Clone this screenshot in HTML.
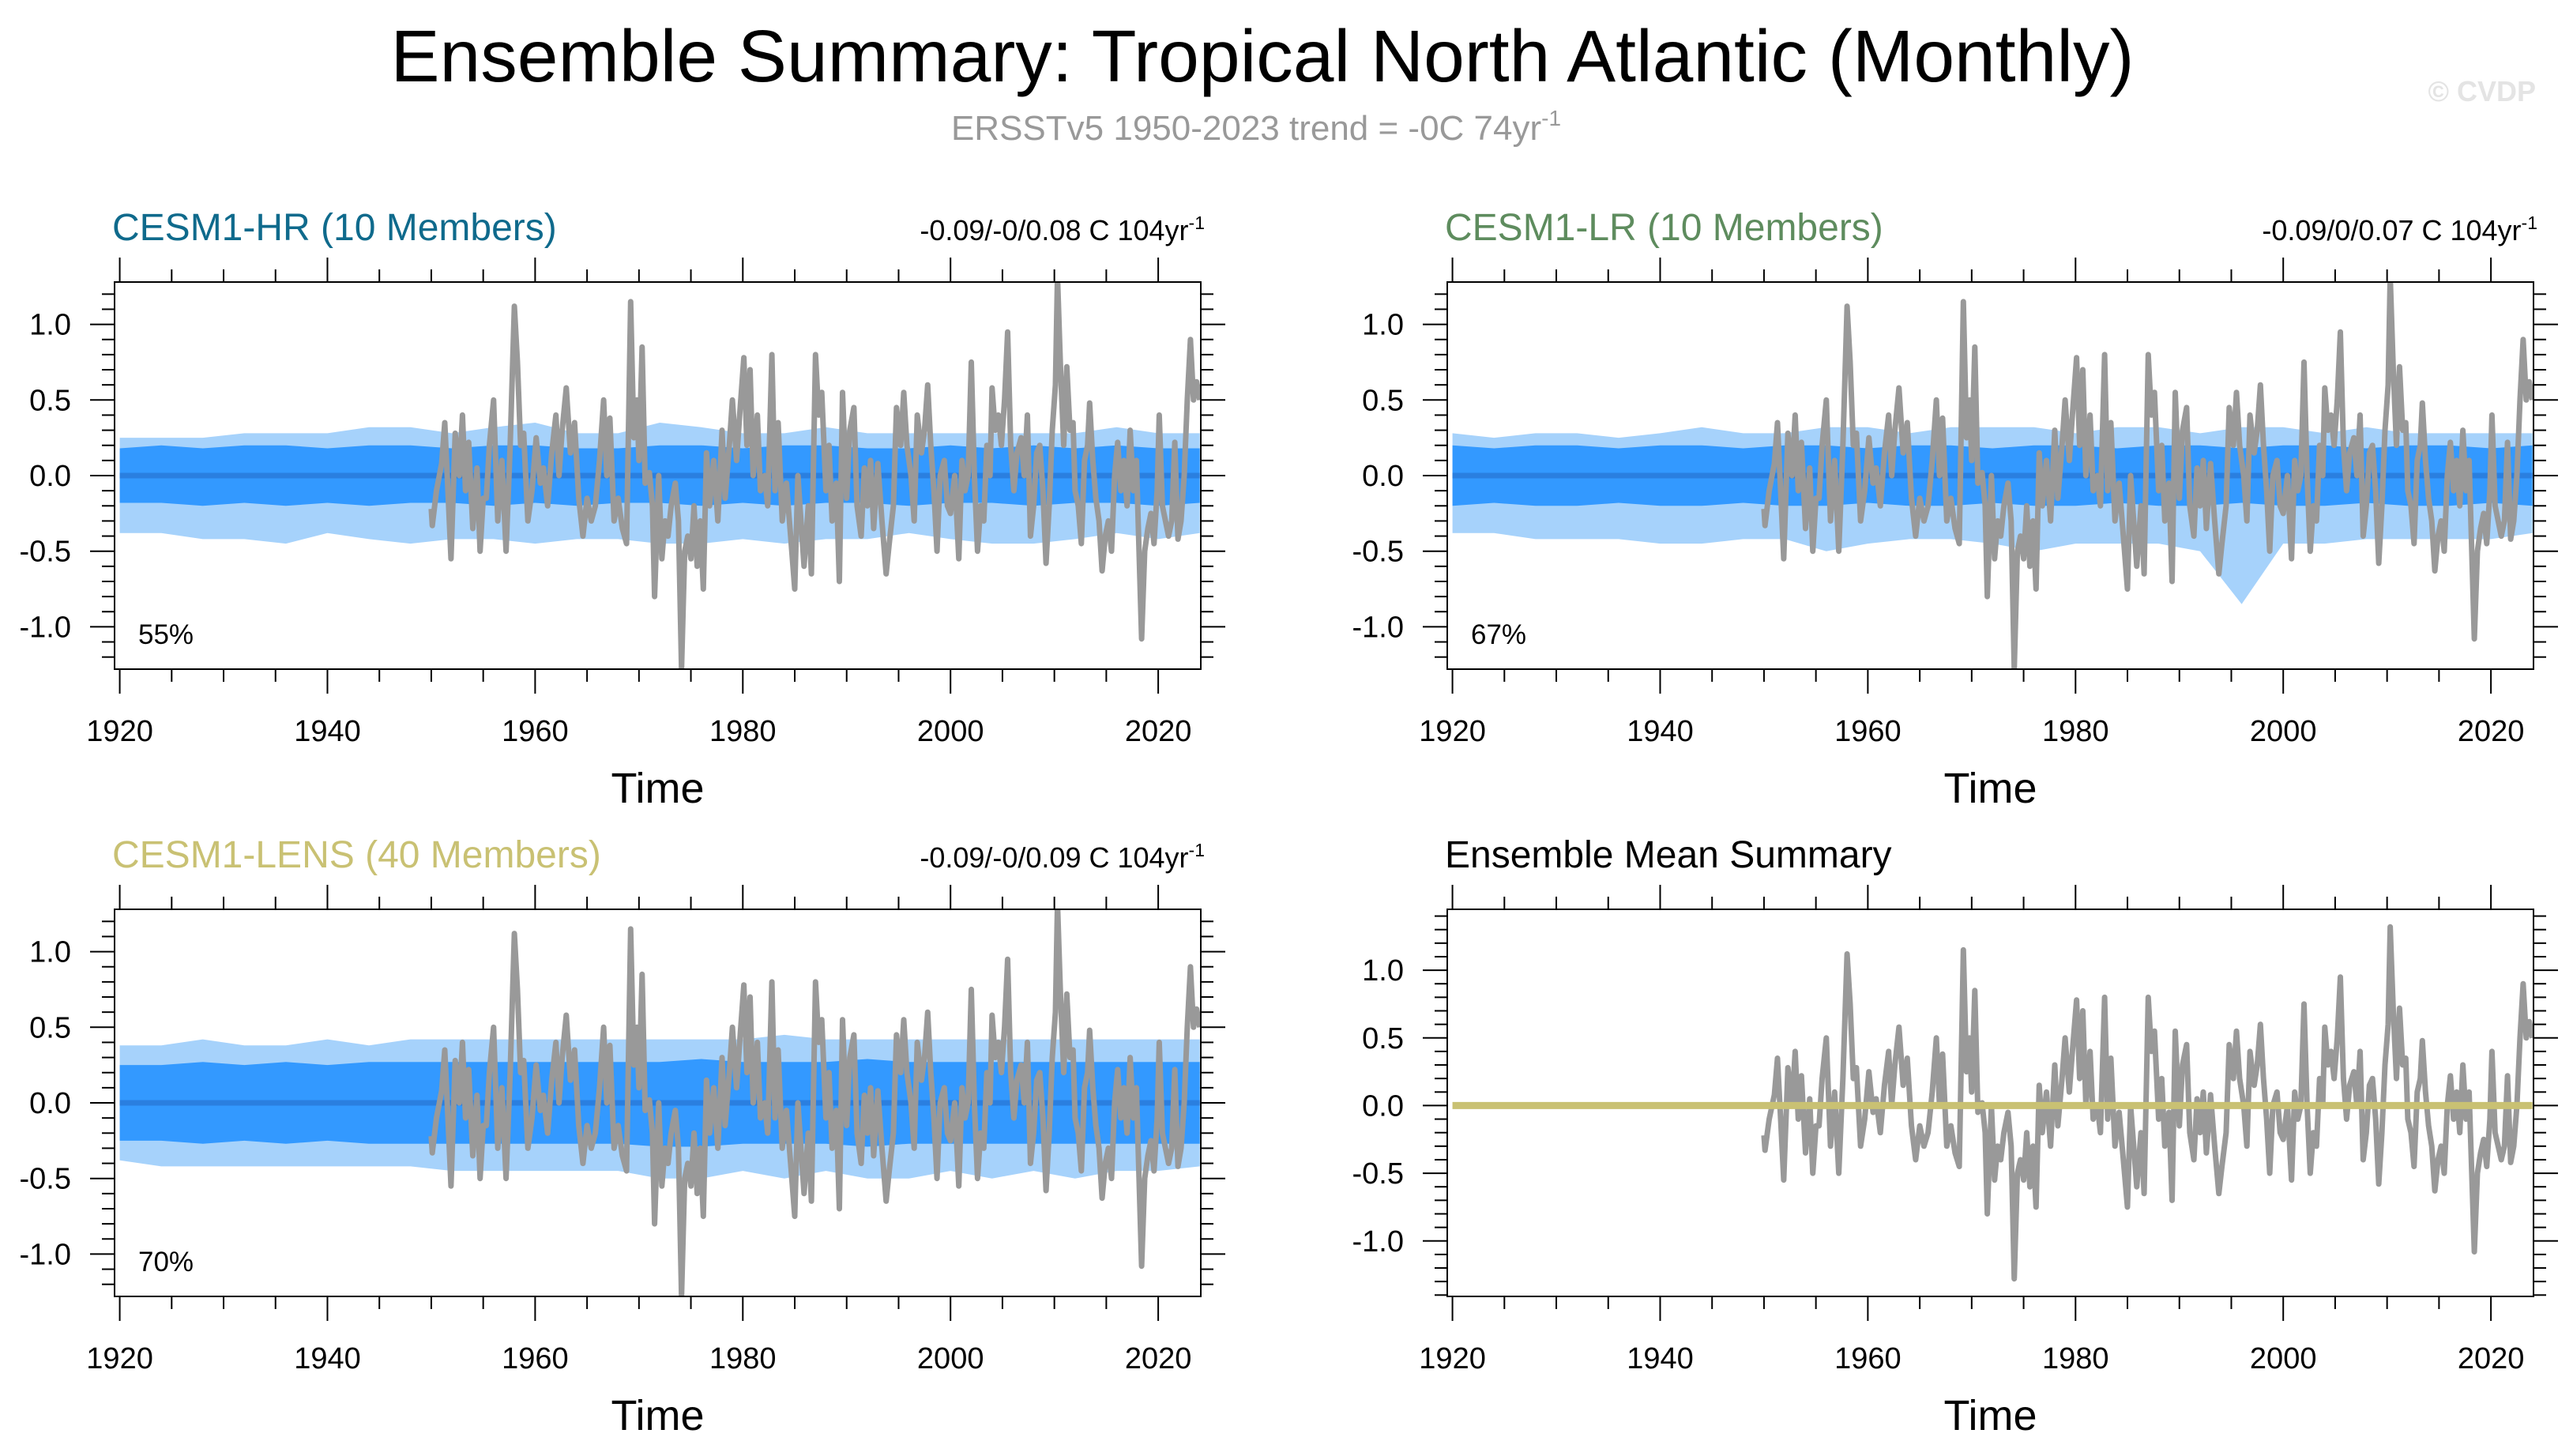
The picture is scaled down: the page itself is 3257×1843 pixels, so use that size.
<!DOCTYPE html>
<html><head><meta charset="utf-8"><style>
html,body{margin:0;padding:0;background:#fff;}
svg{display:block;font-family:"Liberation Sans",sans-serif;}
</style></head><body>
<svg id="chart" width="3257" height="1843" viewBox="0 0 3257 1843" xmlns="http://www.w3.org/2000/svg">
<rect width="3257" height="1843" fill="#fff"/>
<text x="1598" y="103" font-size="93" text-anchor="middle" fill="#000">Ensemble Summary: Tropical North Atlantic (Monthly)</text>
<text x="1590" y="177" font-size="44" text-anchor="middle" fill="#999">ERSSTv5 1950-2023 trend = -0C 74yr<tspan dy="-18" font-size="28">-1</tspan></text>
<text x="3210" y="128" font-size="36" text-anchor="end" fill="#e4e4e4" font-weight="bold">© CVDP</text>
<g id="panels"></g>
</svg>
<script>
// observed (ERSSTv5) series
const obsT=[1950.0,1950.1,1950.5,1951.0,1951.3,1951.6,1951.9,1952.3,1952.7,1953.0,1953.3,1953.6,1954.0,1954.4,1954.7,1955.0,1955.3,1955.6,1956.0,1956.4,1956.8,1957.2,1957.6,1958.0,1958.3,1958.6,1958.9,1959.3,1959.7,1960.1,1960.5,1960.8,1961.2,1961.6,1962.0,1962.3,1962.6,1963.0,1963.4,1963.8,1964.2,1964.6,1965.0,1965.4,1965.8,1966.2,1966.6,1966.9,1967.2,1967.6,1968.0,1968.4,1968.8,1969.2,1969.5,1969.8,1970.0,1970.3,1970.6,1971.0,1971.3,1971.5,1971.9,1972.2,1972.5,1972.8,1973.1,1973.5,1973.8,1974.1,1974.4,1974.7,1975.0,1975.3,1975.6,1975.9,1976.2,1976.5,1976.8,1977.2,1977.6,1978.0,1978.3,1978.7,1979.0,1979.4,1979.7,1980.1,1980.4,1980.7,1981.0,1981.4,1981.7,1982.1,1982.4,1982.8,1983.1,1983.4,1983.8,1984.2,1984.6,1985.0,1985.3,1985.6,1985.9,1986.3,1986.6,1987.0,1987.3,1987.6,1988.0,1988.3,1988.6,1989.0,1989.3,1989.6,1990.0,1990.3,1990.7,1991.0,1991.4,1991.7,1992.0,1992.3,1992.6,1993.0,1993.4,1993.8,1994.1,1994.5,1994.8,1995.2,1995.5,1995.8,1996.2,1996.5,1996.8,1997.2,1997.5,1997.8,1998.1,1998.4,1998.7,1999.0,1999.4,1999.7,2000.0,2000.4,2000.8,2001.1,2001.4,2001.7,2002.0,2002.3,2002.6,2002.9,2003.2,2003.5,2003.8,2004.0,2004.3,2004.6,2004.9,2005.2,2005.5,2005.8,2006.1,2006.4,2006.8,2007.1,2007.4,2007.7,2008.0,2008.3,2008.6,2008.9,2009.2,2009.5,2009.8,2010.1,2010.3,2010.6,2010.9,2011.2,2011.5,2011.8,2012.0,2012.3,2012.6,2012.9,2013.2,2013.4,2013.7,2014.0,2014.3,2014.6,2014.9,2015.2,2015.5,2015.8,2016.1,2016.4,2016.7,2017.0,2017.3,2017.6,2017.9,2018.2,2018.4,2018.7,2019.0,2019.3,2019.6,2019.9,2020.1,2020.4,2020.7,2021.0,2021.3,2021.6,2021.9,2022.2,2022.5,2022.8,2023.1,2023.4,2023.7,2024.0];
const obsV=[-0.22,-0.33,-0.1,0.08,0.35,-0.1,-0.55,0.28,0.0,0.4,-0.1,0.22,-0.35,0.05,-0.5,-0.15,-0.15,0.2,0.5,-0.3,0.1,-0.5,0.2,1.12,0.75,0.2,0.28,-0.3,-0.1,0.25,-0.05,0.05,-0.2,0.15,0.4,0.0,0.3,0.58,0.15,0.35,-0.15,-0.4,-0.15,-0.3,-0.2,0.1,0.5,0.0,0.38,-0.3,-0.15,-0.35,-0.45,1.15,0.25,0.5,0.1,0.85,-0.05,0.02,-0.2,-0.8,0.0,-0.55,-0.3,-0.4,-0.2,-0.05,-0.3,-1.28,-0.5,-0.4,-0.55,-0.2,-0.6,-0.3,-0.75,0.15,-0.2,0.1,-0.3,0.3,-0.15,0.2,0.5,0.1,0.4,0.78,0.2,0.7,0.0,0.4,-0.1,0.0,-0.2,0.8,-0.1,0.35,-0.3,-0.05,-0.4,-0.75,0.0,-0.3,-0.6,-0.2,-0.65,0.8,0.4,0.55,-0.1,0.2,-0.3,-0.05,-0.7,0.55,-0.15,0.3,0.45,-0.2,-0.4,0.05,-0.2,0.1,-0.35,0.08,-0.3,-0.65,-0.45,-0.2,0.45,0.2,0.55,0.2,0.0,-0.3,0.4,0.15,0.3,0.6,0.2,-0.1,-0.5,0.0,0.1,-0.2,-0.25,0.0,-0.55,0.1,-0.1,0.0,0.75,0.0,-0.5,-0.2,-0.3,0.2,0.0,0.58,0.3,0.4,0.2,0.5,0.95,0.2,-0.1,0.15,0.25,0.0,0.4,-0.4,-0.2,0.15,0.2,-0.1,-0.58,-0.2,0.3,0.6,1.32,0.7,0.2,0.72,0.3,0.35,-0.1,-0.2,-0.45,0.1,0.2,0.48,0.1,-0.15,-0.3,-0.63,-0.4,-0.3,-0.5,0.0,0.22,-0.1,0.1,-0.2,0.3,-0.1,0.1,-0.6,-1.08,-0.5,-0.35,-0.25,-0.45,-0.1,0.4,-0.2,-0.3,-0.4,-0.3,0.22,-0.42,-0.3,0.0,0.5,0.9,0.5,0.62,0.5];
// model ensemble spread, 4-year steps from 1920
const bandT=[1920,1924,1928,1932,1936,1940,1944,1948,1952,1956,1960,1964,1968,1972,1976,1980,1984,1988,1992,1996,2000,2004,2008,2012,2016,2020,2024];
const hrLightHi=[0.25,0.25,0.25,0.28,0.28,0.28,0.32,0.32,0.28,0.32,0.35,0.28,0.28,0.35,0.32,0.28,0.28,0.32,0.28,0.28,0.28,0.28,0.28,0.28,0.32,0.28,0.28];
const hrLightLo=[-0.38,-0.38,-0.42,-0.42,-0.45,-0.38,-0.42,-0.45,-0.42,-0.42,-0.45,-0.42,-0.42,-0.45,-0.45,-0.42,-0.45,-0.42,-0.42,-0.38,-0.42,-0.45,-0.45,-0.42,-0.38,-0.42,-0.38];
const hrDarkHi=[0.18,0.2,0.18,0.2,0.2,0.18,0.2,0.2,0.18,0.2,0.2,0.18,0.18,0.2,0.2,0.18,0.2,0.2,0.18,0.18,0.2,0.18,0.2,0.18,0.2,0.18,0.18];
const hrDarkLo=[-0.18,-0.18,-0.2,-0.18,-0.2,-0.18,-0.2,-0.18,-0.18,-0.2,-0.18,-0.2,-0.18,-0.18,-0.2,-0.18,-0.2,-0.18,-0.18,-0.2,-0.18,-0.18,-0.2,-0.18,-0.18,-0.2,-0.18];
const lrLightHi=[0.28,0.25,0.28,0.28,0.25,0.28,0.32,0.28,0.28,0.32,0.32,0.28,0.32,0.32,0.32,0.28,0.32,0.32,0.28,0.32,0.32,0.28,0.32,0.28,0.28,0.28,0.28];
const lrLightLo=[-0.38,-0.38,-0.42,-0.42,-0.42,-0.45,-0.45,-0.42,-0.42,-0.5,-0.45,-0.42,-0.42,-0.45,-0.5,-0.45,-0.45,-0.45,-0.5,-0.85,-0.45,-0.45,-0.42,-0.42,-0.42,-0.42,-0.38];
const lrDarkHi=[0.2,0.18,0.2,0.2,0.18,0.2,0.2,0.18,0.2,0.2,0.18,0.2,0.2,0.18,0.2,0.2,0.18,0.2,0.2,0.18,0.2,0.2,0.18,0.2,0.2,0.18,0.2];
const lrDarkLo=[-0.2,-0.18,-0.2,-0.2,-0.18,-0.2,-0.2,-0.18,-0.2,-0.2,-0.18,-0.2,-0.2,-0.18,-0.2,-0.2,-0.18,-0.2,-0.2,-0.18,-0.2,-0.2,-0.18,-0.2,-0.2,-0.18,-0.2];
const lensLightHi=[0.38,0.38,0.42,0.38,0.38,0.42,0.38,0.42,0.42,0.42,0.42,0.42,0.42,0.42,0.42,0.42,0.45,0.42,0.42,0.42,0.42,0.42,0.42,0.42,0.42,0.42,0.42];
const lensLightLo=[-0.38,-0.42,-0.42,-0.42,-0.42,-0.42,-0.42,-0.42,-0.45,-0.45,-0.45,-0.45,-0.45,-0.5,-0.5,-0.45,-0.5,-0.45,-0.5,-0.5,-0.45,-0.5,-0.45,-0.5,-0.45,-0.45,-0.42];
const lensDarkHi=[0.25,0.25,0.27,0.25,0.27,0.25,0.27,0.27,0.27,0.27,0.27,0.27,0.27,0.27,0.29,0.27,0.27,0.27,0.29,0.27,0.27,0.27,0.27,0.27,0.27,0.27,0.27];
const lensDarkLo=[-0.25,-0.25,-0.27,-0.25,-0.27,-0.25,-0.27,-0.27,-0.27,-0.27,-0.27,-0.27,-0.27,-0.29,-0.29,-0.27,-0.27,-0.27,-0.29,-0.27,-0.27,-0.27,-0.27,-0.27,-0.27,-0.27,-0.27];
const xTicks=[1920,1940,1960,1980,2000,2020];
const yTickLabels=["-1.0","-0.5","0.0","0.5","1.0"];
const yTickVals=[-1,-0.5,0,0.5,1];

const NS="http://www.w3.org/2000/svg";
const root=document.getElementById('panels');
function mk(tag,attrs,parent){const e=document.createElementNS(NS,tag);for(const k in attrs)e.setAttribute(k,attrs[k]);(parent||root).appendChild(e);return e;}

const panels=[
 {x0:145,y0:357,title:"CESM1-HR (10 Members)",tc:"#0f6a8c",trend:"-0.09/-0/0.08 C 104yr",pct:"55%",lh:hrLightHi,ll:hrLightLo,dh:hrDarkHi,dl:hrDarkLo,ymin:-1.28,ymax:1.28,key:"hr"},
 {x0:1832,y0:357,title:"CESM1-LR (10 Members)",tc:"#5e8c5e",trend:"-0.09/0/0.07 C 104yr",pct:"67%",lh:lrLightHi,ll:lrLightLo,dh:lrDarkHi,dl:lrDarkLo,ymin:-1.28,ymax:1.28,key:"lr"},
 {x0:145,y0:1151,title:"CESM1-LENS (40 Members)",tc:"#c9c173",trend:"-0.09/-0/0.09 C 104yr",pct:"70%",lh:lensLightHi,ll:lensLightLo,dh:lensDarkHi,dl:lensDarkLo,ymin:-1.28,ymax:1.28,key:"lens"},
 {x0:1832,y0:1151,title:"Ensemble Mean Summary",tc:"#000",trend:null,pct:null,ymin:-1.41,ymax:1.45,key:"mean"}
];
const W=1375,H=490,XMIN=1919.5,XMAX=2024.1;

panels.forEach(p=>{
 const g=mk('g',{});
 
 
 const X=t=>p.x0+(t-XMIN)/(XMAX-XMIN)*W;
 const Y=v=>p.y0+(p.ymax-v)/(p.ymax-p.ymin)*H;
 const cid='clip-'+p.key;
 const cp=mk('clipPath',{id:cid},g);mk('rect',{x:p.x0,y:p.y0,width:W,height:H},cp);
 const plot=mk('g',{'clip-path':'url(#'+cid+')'},g);
 function band(hi,lo,fill,name){
  let d='';bandT.forEach((t,i)=>{d+=(i?'L':'M')+X(t).toFixed(1)+' '+Y(hi[i]).toFixed(1);});
  for(let i=bandT.length-1;i>=0;i--)d+='L'+X(bandT[i]).toFixed(1)+' '+Y(lo[i]).toFixed(1);
  const e=mk('path',{d:d+'Z',fill:fill},plot);
  
  
 }
 if(p.lh){
  band(p.lh,p.ll,'#a6d2fb','ensemble-range-band');
  band(p.dh,p.dl,'#3399ff','ensemble-spread-band');
  const z=mk('line',{x1:X(1920),x2:X(2024),y1:Y(0),y2:Y(0),stroke:'#2a7fe0','stroke-width':7},plot);
  
  
 }
 let d='';obsT.forEach((t,i)=>{d+=(i?'L':'M')+X(t).toFixed(1)+' '+Y(obsV[i]).toFixed(1);});
 const ob=mk('path',{d:d,fill:'none',stroke:'#999','stroke-width':7,'stroke-linejoin':'round'},plot);
 
 
 if(!p.lh){
  const z=mk('line',{x1:X(1920),x2:X(2024),y1:Y(0),y2:Y(0),stroke:'#c9c173','stroke-width':9},plot);
  
  
 }
 const fr=mk('rect',{x:p.x0,y:p.y0,width:W,height:H,fill:'none',stroke:'#000','stroke-width':2},g);
 
 
 for(let t=1920;t<=2020;t+=5){
  const L=(t%20===0)?31:16;
  mk('line',{x1:X(t),x2:X(t),y1:p.y0+H,y2:p.y0+H+L,stroke:'#000','stroke-width':2},g);
  mk('line',{x1:X(t),x2:X(t),y1:p.y0,y2:p.y0-L,stroke:'#000','stroke-width':2},g);
 }
 xTicks.forEach(t=>{
  const e=mk('text',{x:X(t),y:p.y0+H+91,'font-size':38,'text-anchor':'middle'},g);
  e.textContent=t;
  
  
 });
 for(let k=-14;k<=14;k++){
  const v=k/10;if(v<p.ymin||v>p.ymax)continue;
  const L=(k%5===0)?31:16;
  mk('line',{x1:p.x0,x2:p.x0-L,y1:Y(v),y2:Y(v),stroke:'#000','stroke-width':2},g);
  mk('line',{x1:p.x0+W,x2:p.x0+W+L,y1:Y(v),y2:Y(v),stroke:'#000','stroke-width':2},g);
 }
 yTickVals.forEach((v,i)=>{
  const e=mk('text',{x:p.x0-55,y:Y(v)+13,'font-size':38,'text-anchor':'end'},g);
  e.textContent=yTickLabels[i];
  
  
 });
 const xt=mk('text',{x:p.x0+W/2,y:p.y0+H+169,'font-size':54,'text-anchor':'middle'},g);
 xt.textContent='Time';
 
 
 const tt=mk('text',{x:p.x0-3,y:p.y0-53,'font-size':48,fill:p.tc},g);
 tt.textContent=p.title;
 
 
 if(p.trend){
  const tr=mk('text',{x:p.x0+W+5,y:p.y0-53,'font-size':36,'text-anchor':'end'},g);
  tr.innerHTML=p.trend+'<tspan dy="-14" font-size="23">-1</tspan>';
  
  
  const pc=mk('text',{x:p.x0+30,y:p.y0+458,'font-size':35},g);
  pc.textContent=p.pct;
  
  
 }
});
</script>
</body></html>
